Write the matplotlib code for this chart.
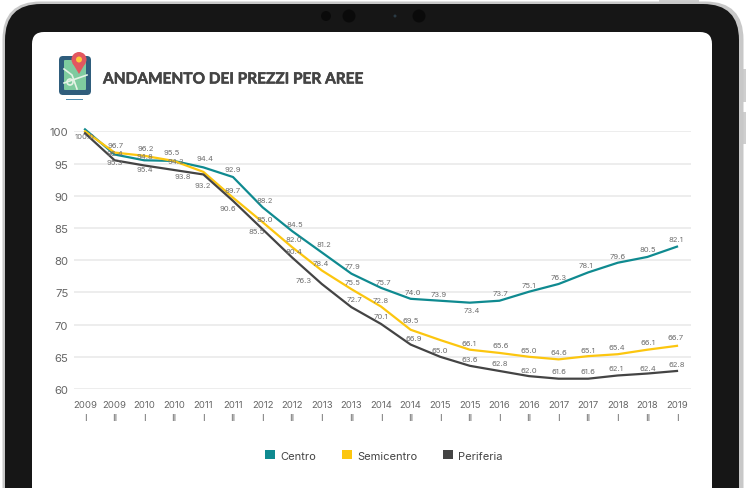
import matplotlib
matplotlib.use("Agg")
import matplotlib.pyplot as plt
import matplotlib.patheffects as pe
from matplotlib.patches import FancyBboxPatch, Circle, Polygon, Rectangle, Patch

plt.rcParams['font.family'] = ['Inter', 'DejaVu Sans']

periods = ["2009\nI", "2009\nII", "2010\nI", "2010\nII", "2011\nI", "2011\nII", "2012\nI", "2012\nII",
           "2013\nI", "2013\nII", "2014\nI", "2014\nII", "2015\nI", "2015\nII", "2016\nI", "2016\nII",
           "2017\nI", "2017\nII", "2018\nI", "2018\nII", "2019\nI"]
centro = [100.3, 96.4, 95.5, 95.4, 94.4, 92.9, 88.2, 84.5, 81.2, 77.9, 75.7, 74.0, 73.7, 73.4, 73.7, 75.1, 76.3, 78.1, 79.6, 80.5, 82.1]
semicentro = [100.0, 96.7, 96.2, 95.4, 93.7, 89.7, 85.9, 82.0, 78.4, 75.5, 72.8, 69.2, 67.6, 66.1, 65.6, 65.0, 64.6, 65.1, 65.4, 66.1, 66.7]
periferia = [99.7, 95.5, 94.7, 94.0, 93.3, 89.2, 84.8, 80.4, 76.3, 72.7, 70.1, 66.9, 65.0, 63.6, 62.8, 62.0, 61.6, 61.6, 62.1, 62.4, 62.8]

centro_labels = [None, "96.4", "94.8", "95.5", "94.4", "92.9", "88.2", "84.5", "81.2", "77.9", "75.7", "74.0", "73.9", "73.4", "73.7", "75.1", "76.3", "78.1", "79.6", "80.5", "82.1"]
semi_labels = ["100.0", "96.7", "96.2", "94.3", None, "89.7", "85.0", "82.0", "78.4", "75.5", "72.8", "69.5", None, "66.1", "65.6", "65.0", "64.6", "65.1", "65.4", "66.1", "66.7"]
peri_labels = [None, "95.3", "95.4", "93.8", "93.2", "90.6", "85.5", "80.4", "76.3", "72.7", "70.1", "66.9", "65.0", "63.6", "62.8", "62.0", "61.6", "61.6", "62.1", "62.4", "62.8"]

# label offsets from the point, in pixels (x right, y down)
centro_off = [(0,0),(0,-1.5),(1,-4),(-2,-9),(2,-9),(0,-8),(2,-7),(3,-7),(2,-8),(1,-8),(2,-6),(2,-7),(-2,-7),(2,7),(1,-8),(0,-7),(0,-7),(-2,-7),(0,-7),(0,-8),(-1,-8)]
semi_off = [(0,5),(1,-8),(2,-8),(2,0),(0,0),(0,-8),(2,-3),(2,-8),(-1,-7),(1,-7),(0,-7),(0,-10),(0,0),(-1,-7),(1,-8),(0,-7),(0,-7),(0,-6),(-1,-7),(1,-8),(-1,-9)]
peri_off = [(0,0),(0,2),(1,4),(9,6),(-1,11),(-5,7),(-6,2),(2,-7),(-18,-4),(3,-8),(0,-8),(3,-7),(0,-7),(0,-7),(0,-8),(0,-6),(0,-8),(0,-8),(-2,-7),(0,-6),(0,-7)]

TEAL, YELLOW, DARK = "#0f8a90", "#fcc60f", "#444444"
TXT = "#666666"
W, H = 746, 489
fig = plt.figure(figsize=(W/100, H/100), dpi=100, facecolor="white")

# device frame, in pixel coordinates
bg = fig.add_axes([0, 0, 1, 1], zorder=-1)
bg.set_xlim(0, W); bg.set_ylim(H, 0); bg.axis("off")
for r in [(659, 0, 40, 6), (743, 70, 3, 33), (743, 113, 3, 32)]:
    bg.add_patch(Rectangle((r[0], r[1]), r[2], r[3], fc="#cfcfcf", ec="none"))
bg.add_patch(FancyBboxPatch((2.5+38, 2.5+38), 741-76, 560, boxstyle="round,pad=38,rounding_size=38", fc="#c8c8c8", ec="none"))
bg.add_patch(FancyBboxPatch((5+36, 5+36), 734-72, 560, boxstyle="round,pad=36,rounding_size=36", fc="#161616", ec="none"))
bg.add_patch(FancyBboxPatch((32+12, 33+12), 680-24, 560, boxstyle="round,pad=12,rounding_size=12", fc="white", ec="none"))
for cx, r in [(326, 5), (349, 6.5), (395, 1.5), (419, 6.5)]:
    bg.add_patch(Circle((cx, 17), r, fc="#0a0a0a" if r > 2 else "#2a3a44", ec="none"))

# map icon
bg.add_patch(FancyBboxPatch((63, 61), 24, 31, boxstyle="round,pad=4,rounding_size=4", fc="#2f5d7c", ec="none"))
bg.add_patch(FancyBboxPatch((65, 62), 20, 28, boxstyle="round,pad=1,rounding_size=1", fc="#7fcb9f", ec="none"))
bg.plot([64, 72, 77], [70, 76, 90], color="#e6f3e6", lw=1.2)
bg.plot([64, 87], [84, 76], color="#e6f3e6", lw=1.2)
bg.add_patch(Circle((70, 83), 3, fc="none", ec="#e6f3e6", lw=1.2))
bg.add_patch(Rectangle((66, 99.5), 17, 1.5, fc="#4f8db0", ec="none"))
bg.add_patch(Polygon([(72.5, 64), (85.5, 64), (79, 75)], fc="#e2575f", ec="none"))
bg.add_patch(Circle((79, 60.5), 7.5, fc="#e2575f", ec="none"))
bg.add_patch(Circle((79, 60.5), 3, fc="#fcc93a", ec="none"))

bg.text(103, 80.5, "ANDAMENTO DEI PREZZI PER AREE", fontsize=11.1, fontweight="bold",
        color="#444444", family=["Lato", "DejaVu Sans"], va="center", ha="left",
        path_effects=[pe.withStroke(linewidth=0.4, foreground="#444444")])

# chart
y100, y60 = 132.3, 390.0
left, right = 74, 691
ax = fig.add_axes([left/W, 1 - y60/H, (right-left)/W, (y60-y100)/H], facecolor="none")
step = 29.6
ax.set_xlim((left-85)/step, (right-85)/step)
ax.set_ylim(60, 100)
ax.set_yticks([60, 65, 70, 75, 80, 85, 90, 95, 100])
ax.set_xticks(range(len(periods)))
ax.set_xticklabels(periods, linespacing=1.5)
ax.grid(axis="y", color="#e8e8e8", lw=1.1)
ax.set_axisbelow(True)
for s in ax.spines.values():
    s.set_visible(False)
ax.tick_params(axis="both", length=0, colors=TXT)
ax.tick_params(axis="y", labelsize=8.2, pad=4)
ax.tick_params(axis="x", labelsize=6.9, pad=8)

series = [(centro, TEAL, "Centro", centro_labels, centro_off),
          (semicentro, YELLOW, "Semicentro", semi_labels, semi_off),
          (periferia, DARK, "Periferia", peri_labels, peri_off)]
for vals, col, name, labs, offs in series:
    ax.plot(range(len(vals)), vals, color=col, lw=1.6, clip_on=False, solid_joinstyle="round")
for vals, col, name, labs, offs in series:
    for i, (v, t, o) in enumerate(zip(vals, labs, offs)):
        if t is None:
            continue
        ax.annotate(t, (i, v), xytext=(o[0]*0.72, -o[1]*0.72), textcoords="offset points",
                    ha="center", va="center", fontsize=5.5, color="#707070", annotation_clip=False)

handles = [Patch(fc=c, ec="none", label=n) for _, c, n, _, _ in series]
leg = ax.legend(handles=handles, ncol=3, frameon=False, loc="center", bbox_to_anchor=(0.502, -0.258),
                fontsize=8, labelcolor="#444444", handlelength=0.9, handleheight=0.9,
                handletextpad=0.5, columnspacing=2.3, borderpad=0, borderaxespad=0)

fig.savefig("out.png", dpi=100, facecolor="white")
